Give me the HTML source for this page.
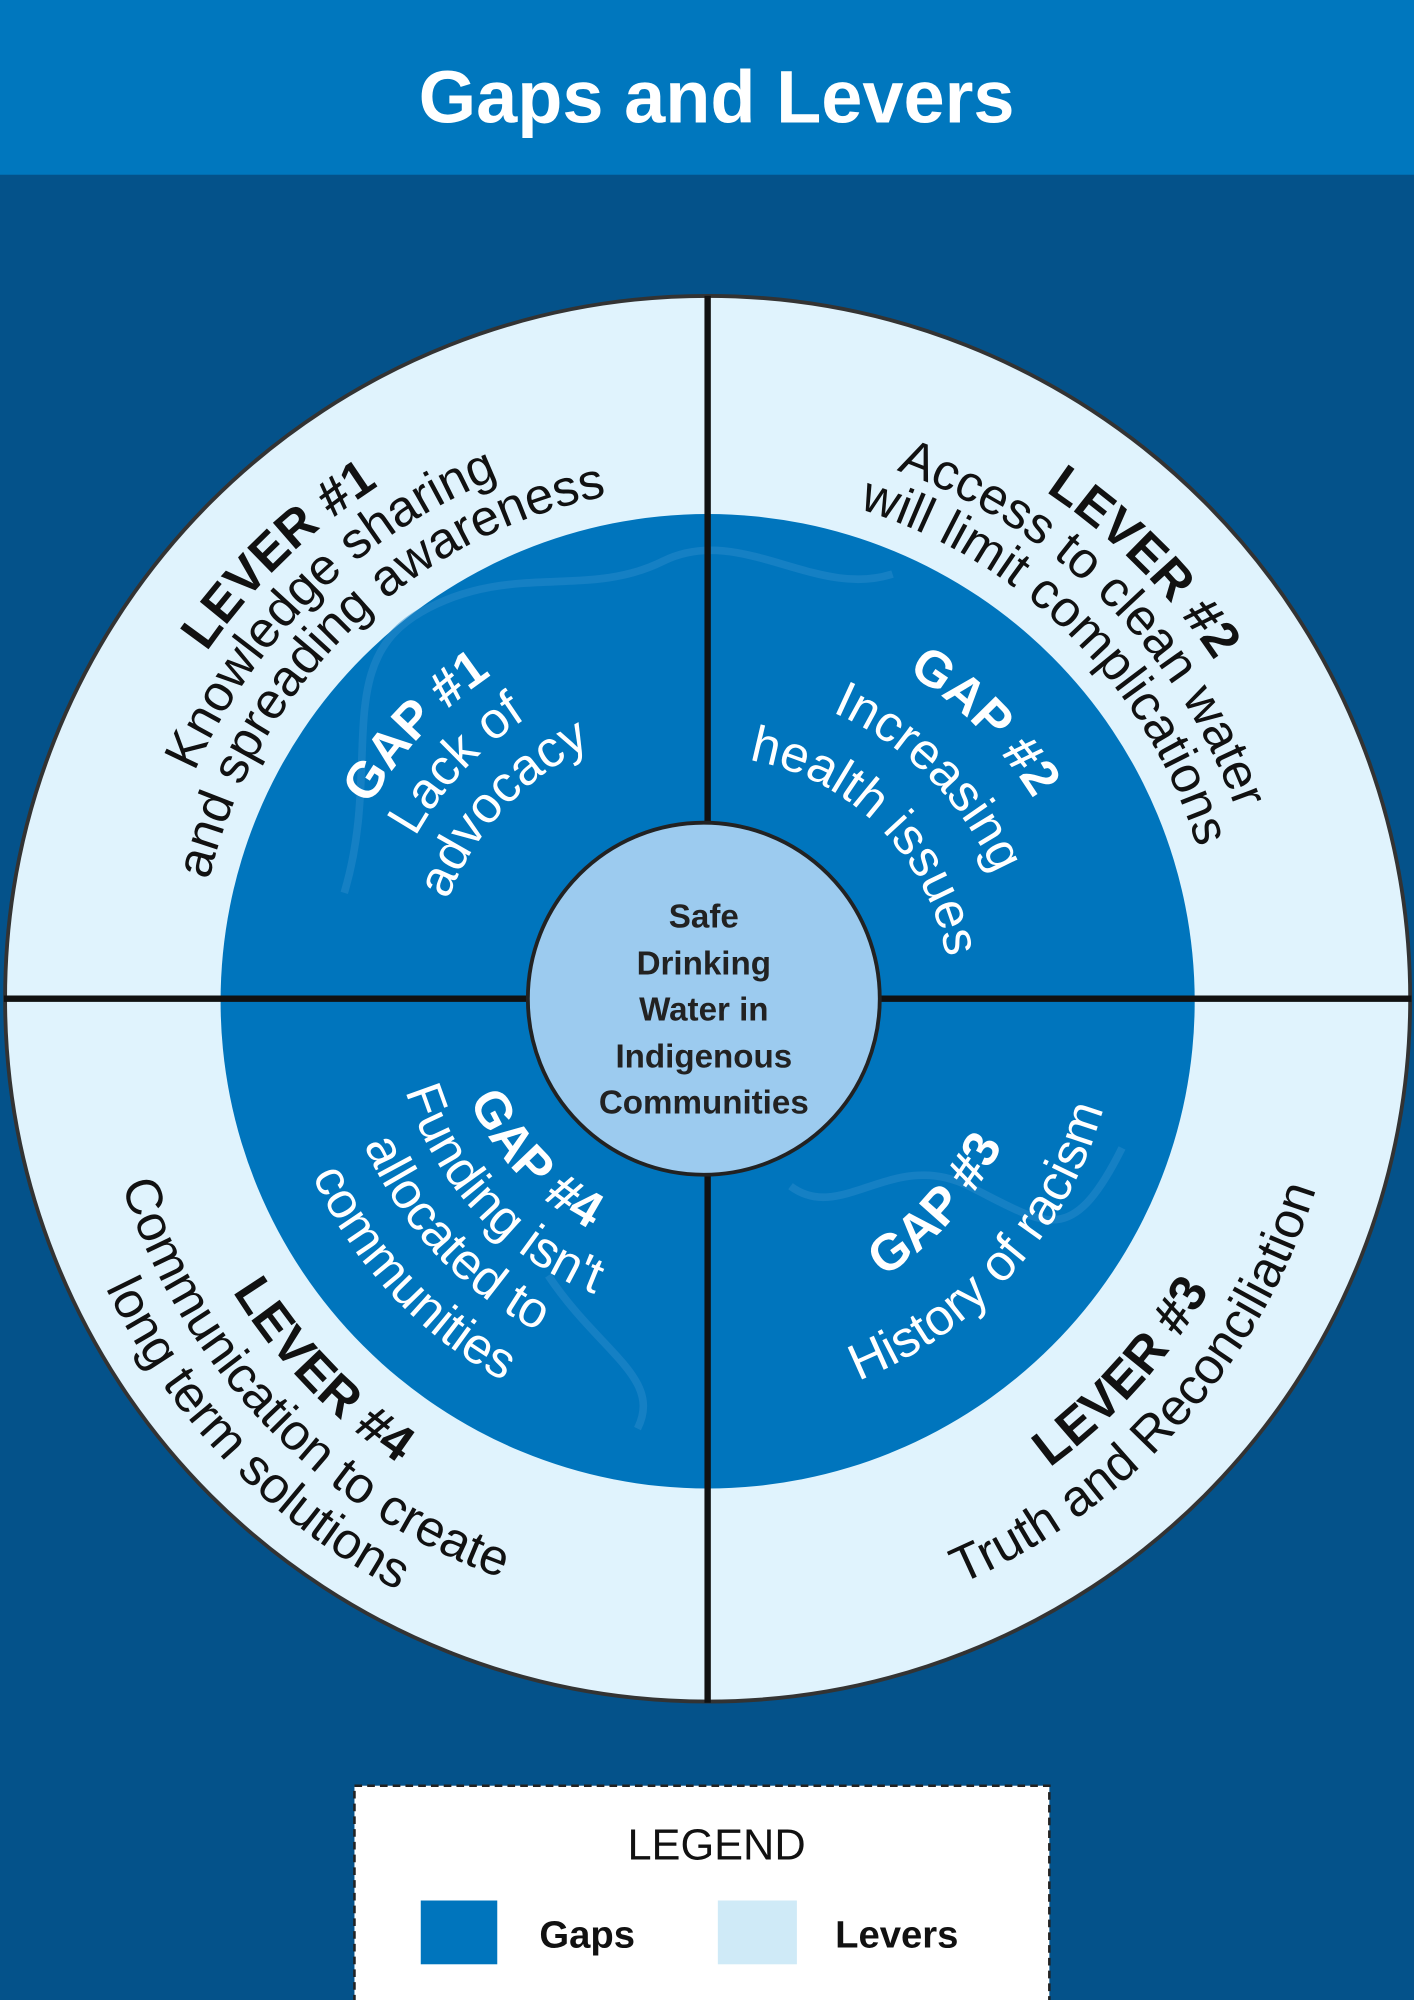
<!DOCTYPE html>
<html><head><meta charset="utf-8"><style>
html,body{margin:0;padding:0;background:#04528a;}
svg{display:block;}
text{font-family:"Liberation Sans",sans-serif;}
</style></head><body>
<svg width="1414" height="2000" viewBox="0 0 1109 1568" xmlns="http://www.w3.org/2000/svg" preserveAspectRatio="none">
<defs>
<path id="u478" d="M -470.7 -83 A 478 478 0 0 1 470.7 -83"/>
<path id="u440" d="M -433.3 -76.4 A 440 440 0 0 1 433.3 -76.4"/>
<path id="u402" d="M -395.9 -69.8 A 402 402 0 0 1 395.9 -69.8"/>
<path id="u305" d="M -300.4 -52.9 A 305 305 0 0 1 300.4 -52.9"/>
<path id="u262" d="M -258 -45.5 A 262 262 0 0 1 258 -45.5"/>
<path id="u218" d="M -214.7 -37.8 A 218 218 0 0 1 214.7 -37.8"/>
<path id="u300" d="M -295.4 -52.1 A 300 300 0 0 1 295.4 -52.1"/>
<path id="u245" d="M -241.3 -42.5 A 245 245 0 0 1 241.3 -42.5"/>
<path id="u190" d="M -187.1 -33 A 190 190 0 0 1 187.1 -33"/>
<path id="d455" d="M -448.1 79 A 455 455 0 0 0 448.1 79"/>
<path id="d500" d="M -492.4 86.8 A 500 500 0 0 0 492.4 86.8"/>
<path id="d438" d="M -431.3 76 A 438 438 0 0 0 431.3 76"/>
<path id="d482" d="M -474.7 83.7 A 482 482 0 0 0 474.7 83.7"/>
<path id="d524" d="M -516 91 A 524 524 0 0 0 516 91"/>
<path id="d258" d="M -254.1 44.8 A 258 258 0 0 0 254.1 44.8"/>
<path id="d322" d="M -317.1 55.9 A 322 322 0 0 0 317.1 55.9"/>
<path id="d203" d="M -199.9 35.2 A 203 203 0 0 0 199.9 35.2"/>
<path id="d248" d="M -244.2 43.1 A 248 248 0 0 0 244.2 43.1"/>
<path id="d293" d="M -288.5 50.9 A 293 293 0 0 0 288.5 50.9"/>
<path id="d340" d="M -334.8 59 A 340 340 0 0 0 334.8 59"/>
</defs>
<rect x="0" y="0" width="1109" height="1568" fill="#04528a"/>
<rect x="0" y="0" width="1109" height="137" fill="#0077be"/>
<text x="562" y="96" text-anchor="middle" font-size="58" font-weight="bold" fill="#fff">Gaps and Levers</text>

<circle cx="555" cy="783" r="551" fill="#e0f3fd" stroke="#333" stroke-width="3"/>
<circle cx="555" cy="785" r="382" fill="#0075bd"/>
<g fill="none" stroke="#2a8ccc" stroke-width="6" opacity="0.5">
<path d="M270 700 C300 600 260 520 330 480 S460 470 520 440 S640 470 700 450"/>
<path d="M620 930 C660 960 700 900 760 930 S840 980 880 900"/>
<path d="M430 1000 C470 1060 520 1080 500 1120"/>
</g>
<line x1="555" y1="232" x2="555" y2="1335" stroke="#111" stroke-width="5"/>
<line x1="3" y1="783" x2="1107" y2="783" stroke="#111" stroke-width="5"/>
<circle cx="552" cy="783" r="138" fill="#9ccbef" stroke="#222" stroke-width="3"/>
<g font-size="26" font-weight="bold" fill="#222" text-anchor="middle">
<text x="552" y="727">Safe</text>
<text x="552" y="764">Drinking</text>
<text x="552" y="800">Water in</text>
<text x="552" y="837">Indigenous</text>
<text x="552" y="873">Communities</text>
</g>

<!-- Lever 1 -->
<g transform="translate(555 783) rotate(-44)" font-size="40" fill="#111" text-anchor="middle">
<text font-weight="bold"><textPath href="#u478" startOffset="50%">LEVER #1</textPath></text>
<text><textPath href="#u440" startOffset="50%">Knowledge sharing</textPath></text>
<text><textPath href="#u402" startOffset="50%">and spreading awareness</textPath></text>
</g>
<!-- Lever 2 -->
<g transform="translate(555 783) rotate(45)" font-size="40" fill="#111" text-anchor="middle">
<text font-weight="bold"><textPath href="#u478" startOffset="50%">LEVER #2</textPath></text>
<text><textPath href="#u440" startOffset="50%">Access to clean water</textPath></text>
<text><textPath href="#u402" startOffset="50%">will limit complications</textPath></text>
</g>
<!-- Lever 3 -->
<g transform="translate(555 783) rotate(-48)" font-size="40" fill="#111" text-anchor="middle">
<text font-weight="bold"><textPath href="#d455" startOffset="50%">LEVER #3</textPath></text>
<text><textPath href="#d500" startOffset="50%">Truth and Reconciliation</textPath></text>
</g>
<!-- Lever 4 -->
<g transform="translate(555 783) rotate(46)" font-size="40" fill="#111" text-anchor="middle">
<text font-weight="bold"><textPath href="#d438" startOffset="50%">LEVER #4</textPath></text>
<text><textPath href="#d482" startOffset="50%">Communication to create</textPath></text>
<text><textPath href="#d524" startOffset="50%">long term solutions</textPath></text>
</g>
<!-- Gap 1 -->
<g transform="translate(555 783) rotate(-47)" font-size="40" fill="#fff" text-anchor="middle">
<text font-weight="bold"><textPath href="#u305" startOffset="50%">GAP #1</textPath></text>
<text><textPath href="#u262" startOffset="50%">Lack of</textPath></text>
<text><textPath href="#u218" startOffset="50%">advocacy</textPath></text>
</g>
<!-- Gap 2 -->
<g transform="translate(555 783) rotate(45)" font-size="40" fill="#fff" text-anchor="middle">
<text font-weight="bold"><textPath href="#u300" startOffset="50%">GAP #2</textPath></text>
<text><textPath href="#u245" startOffset="50%">Increasing</textPath></text>
<text><textPath href="#u190" startOffset="50%">health issues</textPath></text>
</g>
<!-- Gap 3 -->
<g transform="translate(555 783) rotate(-48)" font-size="40" fill="#fff" text-anchor="middle">
<text font-weight="bold"><textPath href="#d258" startOffset="50%">GAP #3</textPath></text>
<text><textPath href="#d322" startOffset="50%">History of racism</textPath></text>
</g>
<!-- Gap 4 -->
<g transform="translate(555 783) rotate(47)" font-size="40" fill="#fff" text-anchor="middle">
<text font-weight="bold"><textPath href="#d203" startOffset="50%">GAP #4</textPath></text>
<text><textPath href="#d248" startOffset="50%">Funding isn't</textPath></text>
<text><textPath href="#d293" startOffset="50%">allocated to</textPath></text>
<text><textPath href="#d340" startOffset="50%">communities</textPath></text>
</g>

<!-- Legend -->
<rect x="278" y="1400" width="545" height="170" fill="#fff" stroke="#222" stroke-width="2" stroke-dasharray="6 4"/>
<text x="562" y="1458" text-anchor="middle" font-size="34" fill="#111">LEGEND</text>
<rect x="330" y="1490" width="60" height="50" fill="#0075bd"/>
<text x="423" y="1527" font-size="30" font-weight="bold" fill="#111">Gaps</text>
<rect x="563" y="1490" width="62" height="50" fill="#cfeaf7"/>
<text x="655" y="1527" font-size="30" font-weight="bold" fill="#111">Levers</text>
</svg>
</body></html>
